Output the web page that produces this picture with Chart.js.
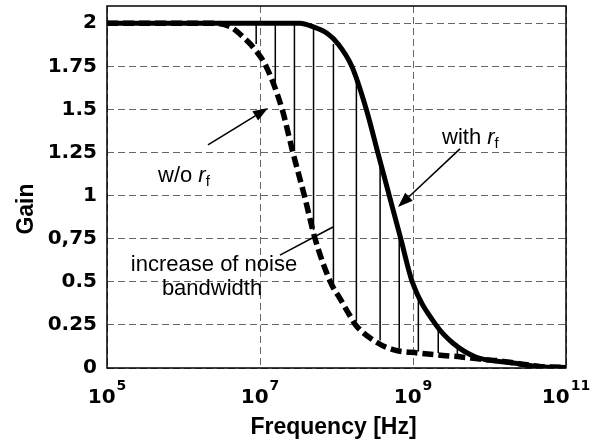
<!DOCTYPE html>
<html><head><meta charset="utf-8">
<script src="https://cdn.jsdelivr.net/npm/chart.js@4"></script>
<style>html,body{margin:0;padding:0;background:#fff;}canvas{display:block;}</style>
</head><body>
<canvas id="c" width="605" height="446"></canvas>
<script>
// ---- data (frequency given as log10 exponent) ----
const xTickExponents = [5, 7, 9, 11];
const yTickValues = [0, 0.25, 0.5, 0.75, 1, 1.25, 1.5, 1.75, 2];
const yTickLabels = ['0', '0.25', '0.5', '0,75', '1', '1.25', '1.5', '1.75', '2'];

const solidLogF = [5, 6, 7, 7.3, 7.52, 7.69, 7.88, 8.02, 8.20, 8.39, 8.54, 8.69, 8.84, 8.99, 9.30, 9.52, 9.82, 10.31, 10.66, 11];
const solidGain = [2, 2, 2, 2, 2.0, 1.98, 1.94, 1.88, 1.75, 1.5, 1.25, 1.0, 0.75, 0.5, 0.25, 0.145, 0.064, 0.029, 0.008, 0.003];

const dashedLogF = [5, 6, 6.37, 6.61, 6.78, 6.93, 7.08, 7.29, 7.43, 7.58, 7.72, 7.92, 8.05, 8.18, 8.25, 8.54, 8.75, 9.07, 9.33, 9.63, 9.87, 10.16, 10.33, 10.68, 11];
const dashedGain = [2, 2, 2, 1.98, 1.92, 1.85, 1.75, 1.5, 1.25, 1.0, 0.75, 0.5, 0.40, 0.30, 0.25, 0.145, 0.105, 0.087, 0.075, 0.064, 0.052, 0.040, 0.029, 0.008, 0.003];

const hatchLogF   = [6.95, 7.20, 7.45, 7.70, 7.96, 8.26, 8.57, 8.82, 9.07, 9.33, 9.58];
const hatchTop    = [2.0, 2.0, 2.0, 1.98, 1.88, 1.66, 1.20, 0.78, 0.44, 0.25, 0.14];
const hatchBottom = [1.88, 1.65, 1.26, 0.80, 0.49, 0.27, 0.16, 0.115, 0.095, 0.087, 0.075];

const xTitle = 'Frequency [Hz]';
const yTitle = 'Gain';
const labelWo = 'w/o ';
const labelWith = 'with ';
const labelNoise1 = 'increase of noise';
const labelNoise2 = 'bandwidth';

// ---- build datasets ----
const toPts = (lf, g) => lf.map((e, i) => ({x: Math.pow(10, e), y: g[i]}));
const hatchPts = [];
hatchLogF.forEach((e, i) => {
  const f = Math.pow(10, e);
  hatchPts.push({x: f, y: hatchBottom[i]}, {x: f, y: hatchTop[i]}, {x: f, y: null});
});

const TICK_FONT = '"DejaVu Sans"';
const TITLE_FONT = '"Liberation Sans", Arial, sans-serif';

const decor = {
  id: 'decor',
  afterDraw(chart) {
    const {ctx, chartArea: a, scales: {x, y}} = chart;
    const px = e => x.getPixelForValue(Math.pow(10, e));
    const py = g => y.getPixelForValue(g);
    ctx.save();
    // frame
    ctx.strokeStyle = '#000';
    ctx.lineWidth = 1.5;
    ctx.setLineDash([]);
    ctx.strokeRect(a.left, a.top, a.right - a.left, a.bottom - a.top);

    ctx.fillStyle = '#000';
    ctx.textBaseline = 'alphabetic';
    ctx.textAlign = 'left';
    // x tick labels 10^n
    xTickExponents.forEach(e => {
      ctx.font = 'bold 20px ' + TICK_FONT;
      const w1 = ctx.measureText('10').width;
      ctx.font = 'bold 14px ' + TICK_FONT;
      const w2 = ctx.measureText(String(e)).width;
      const sx = px(e) - (w1 + w2 + 1) / 2;
      ctx.font = 'bold 20px ' + TICK_FONT;
      ctx.fillText('10', sx, a.bottom + 35);
      ctx.font = 'bold 14px ' + TICK_FONT;
      ctx.fillText(String(e), sx + w1 + 1, a.bottom + 22);
    });

    // axis titles
    ctx.font = 'bold 23px ' + TITLE_FONT;
    ctx.textAlign = 'center';
    ctx.fillText(xTitle, (a.left + a.right) / 2 - 3, 434);
    ctx.save();
    ctx.translate(33, (a.top + a.bottom) / 2 + 22);
    ctx.rotate(-Math.PI / 2);
    ctx.fillText(yTitle, 0, 0);
    ctx.restore();

    // arrows
    const arrow = (e1, g1, e2, g2, head) => {
      const x1 = px(e1), y1 = py(g1), x2 = px(e2), y2 = py(g2);
      const ang = Math.atan2(y2 - y1, x2 - x1);
      const L = head ? 15 : 0, W = 5.5;
      const bx = x2 - L * Math.cos(ang), by = y2 - L * Math.sin(ang);
      ctx.lineWidth = 1.6;
      ctx.beginPath(); ctx.moveTo(x1, y1); ctx.lineTo(bx, by); ctx.stroke();
      if (head) {
        ctx.beginPath();
        ctx.moveTo(x2, y2);
        ctx.lineTo(bx + W * Math.sin(ang), by - W * Math.cos(ang));
        ctx.lineTo(bx - W * Math.sin(ang), by + W * Math.cos(ang));
        ctx.closePath(); ctx.fill();
      }
    };
    arrow(6.320, 1.294, 7.105, 1.508, true);
    arrow(9.614, 1.271, 8.804, 0.934, true);
    arrow(7.261, 0.655, 7.954, 0.818, false);

    // labels with r_f
    const rfLabel = (prefix, e, g) => {
      let cx = px(e); const by = py(g);
      ctx.textAlign = 'left';
      ctx.font = '22px ' + TITLE_FONT;
      ctx.fillText(prefix, cx, by); cx += ctx.measureText(prefix).width;
      ctx.font = 'italic 22px ' + TITLE_FONT;
      ctx.fillText('r', cx, by); cx += ctx.measureText('r').width;
      ctx.font = '15px ' + TITLE_FONT;
      ctx.fillText('f', cx, by + 4);
    };
    rfLabel(labelWo, 5.667, 1.079);
    rfLabel(labelWith, 9.379, 1.299);

    ctx.font = '22px ' + TITLE_FONT;
    ctx.textAlign = 'center';
    ctx.fillText(labelNoise1, px(6.399), py(0.563));
    ctx.fillText(labelNoise2, px(6.373), py(0.423));
    ctx.restore();
  }
};

new Chart(document.getElementById('c'), {
  type: 'line',
  data: {
    datasets: [
      {data: toPts(solidLogF, solidGain), borderColor: '#000', borderWidth: 5, pointRadius: 0,
       cubicInterpolationMode: 'monotone', order: 1, fill: false},
      {data: toPts(dashedLogF, dashedGain), borderColor: '#000', borderWidth: 5.5, borderDash: [11, 5],
       pointRadius: 0, cubicInterpolationMode: 'monotone', order: 2, fill: false},
      {data: hatchPts, borderColor: '#000', borderWidth: 1.5, pointRadius: 0, tension: 0,
       spanGaps: false, order: 3, fill: false}
    ]
  },
  options: {
    responsive: false,
    animation: false,
    events: [],
    layout: {padding: {left: 0, right: 39, top: 6, bottom: 0}},
    plugins: {legend: {display: false}, tooltip: {enabled: false}},
    scales: {
      x: {
        type: 'logarithmic', min: 1e5, max: 1e11,
        afterBuildTicks: s => { s.ticks = xTickExponents.map(e => ({value: Math.pow(10, e)})); },
        afterFit: s => { s.height = 78; s.paddingLeft = 0; s.paddingRight = 0; },
        ticks: {display: false, autoSkip: false},
        grid: {color: '#666', lineWidth: 1, drawTicks: false},
        border: {display: false, dash: [7, 4]}
      },
      y: {
        type: 'linear', min: 0, max: 2.1,
        afterBuildTicks: s => { s.ticks = yTickValues.map(v => ({value: v})); },
        afterFit: s => { s.width = 107; s.paddingTop = 0; s.paddingBottom = 0; },
        ticks: {
          autoSkip: false, padding: 10, color: '#000',
          font: {family: 'DejaVu Sans', weight: 'bold', size: 20},
          callback: (v) => { const i = yTickValues.indexOf(v); return i >= 0 ? yTickLabels[i] : ''; }
        },
        grid: {color: '#666', lineWidth: 1, drawTicks: false},
        border: {display: false, dash: [7, 4]}
      }
    }
  },
  plugins: [decor]
});
</script>
</body></html>
